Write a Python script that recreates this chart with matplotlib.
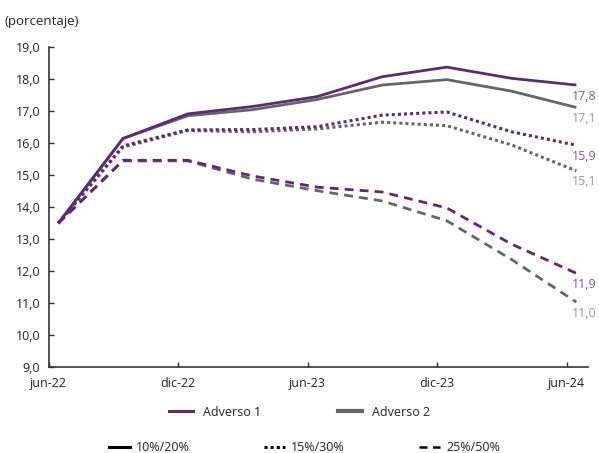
import matplotlib
matplotlib.use("Agg")
import matplotlib.pyplot as plt
from matplotlib.lines import Line2D

plt.rcParams['font.family'] = ['Open Sans', 'DejaVu Sans']

# Data (quarterly, June 2022 - June 2024)
quarters = ["jun-22", "sep-22", "dic-22", "mar-23", "jun-23", "sep-23", "dic-23", "mar-24", "jun-24"]
a1_10_20 = [13.5, 16.15, 16.92, 17.15, 17.46, 18.08, 18.38, 18.03, 17.82]
a2_10_20 = [13.5, 16.15, 16.86, 17.05, 17.37, 17.82, 17.99, 17.63, 17.12]
a1_15_30 = [13.5, 15.92, 16.42, 16.43, 16.52, 16.88, 16.98, 16.36, 15.94]
a2_15_30 = [13.5, 15.88, 16.40, 16.36, 16.45, 16.66, 16.55, 15.95, 15.14]
a1_25_50 = [13.5, 15.47, 15.47, 14.98, 14.63, 14.48, 13.98, 12.85, 11.94]
a2_25_50 = [13.5, 15.45, 15.45, 14.88, 14.52, 14.20, 13.58, 12.37, 11.04]
xtick_labels = ["jun-22", "dic-22", "jun-23", "dic-23", "jun-24"]
scen_labels = ["Adverso 1", "Adverso 2"]
pct_labels = ["10%/20%", "15%/30%", "25%/50%"]

PURPLE = "#5b2c6f"
GRAY = "#666666"
PURPLE_TXT = "#7f5f92"
GRAY_TXT = "#9a9a9a"
AX = "#333333"

x = [0.45 + 3 * i for i in range(len(quarters))]

fig = plt.figure(figsize=(5.99, 4.53), dpi=100)
ax = fig.add_axes([0.081, 0.189, 0.901, 0.7066])

solid = '-'
dotted = (0, (1.0, 1.0))
dashed = (0, (3.2, 2.2))

series = [
    (a1_10_20, PURPLE, solid, 2.0, PURPLE_TXT),
    (a2_10_20, GRAY, solid, 2.0, GRAY_TXT),
    (a1_15_30, PURPLE, dotted, 2.2, PURPLE_TXT),
    (a2_15_30, GRAY, dotted, 2.2, GRAY_TXT),
    (a1_25_50, PURPLE, dashed, 2.0, PURPLE_TXT),
    (a2_25_50, GRAY, dashed, 2.0, GRAY_TXT),
]
for vals, col, ls, lw, tcol in [series[1], series[3], series[5], series[0], series[2], series[4]]:
    ax.plot(x, vals, color=col, linestyle=ls, linewidth=lw, solid_capstyle='butt',
            dash_capstyle='butt')
    ax.annotate(f"{vals[-1]:.1f}".replace('.', ','), xy=(x[-1], vals[-1]),
                xytext=(-3, -8), textcoords='offset points', ha='left', va='center',
                fontsize=9, color=tcol)

ax.set_xlim(0, 25)
ax.set_ylim(9, 19)
ax.set_xticks([0, 6, 12, 18, 24])
ax.set_xticklabels(xtick_labels)
yt = [9 + i for i in range(11)]
ax.set_yticks(yt)
ax.set_yticklabels([f"{v:.1f}".replace('.', ',') for v in yt])
for s in ['top', 'right']:
    ax.spines[s].set_visible(False)
for s in ['left', 'bottom']:
    ax.spines[s].set_color(AX)
    ax.spines[s].set_linewidth(1.2)
ax.tick_params(axis='both', direction='in', length=3.5, width=1.0, color=AX,
               labelsize=9, labelcolor="#222222")
ax.tick_params(axis='y', pad=6)
ax.tick_params(axis='x', pad=7)

fig.text(0.008, 0.953, "(porcentaje)", fontsize=9.5, color="#222222", ha='left', va='center')

h1 = [Line2D([], [], color=PURPLE, lw=2.2), Line2D([], [], color=GRAY, lw=3)]
leg1 = fig.legend(h1, scen_labels, loc='center', bbox_to_anchor=(0.5, 0.09), ncol=2,
                  frameon=False, fontsize=9, handlelength=1.9, columnspacing=6.2,
                  handletextpad=0.8)
for t in leg1.get_texts():
    t.set_color("#222222")

h2 = [Line2D([], [], color='black', lw=2.2, linestyle=solid),
      Line2D([], [], color='black', lw=2.2, linestyle=dotted),
      Line2D([], [], color='black', lw=1.8, linestyle=dashed)]
leg2 = fig.legend(h2, pct_labels, loc='center', bbox_to_anchor=(0.508, 0.012), ncol=3,
                  frameon=False, fontsize=9, handlelength=1.7, columnspacing=5.9,
                  handletextpad=0.5)
for t in leg2.get_texts():
    t.set_color("#222222")

fig.savefig("out.png", dpi=100)
